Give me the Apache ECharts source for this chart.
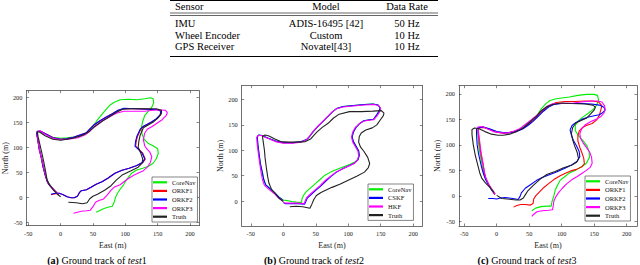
<!DOCTYPE html>
<html>
<head>
<meta charset="utf-8">
<script src="https://cdn.jsdelivr.net/npm/echarts@6/dist/echarts.min.js"></script>
<style>
html,body{margin:0;padding:0;background:#fff;}
#chart{width:640px;height:265px;}
</style>
</head>
<body>
<div id="chart"></div>
<script>
// ---------- table ----------
const tableHeader = ['Sensor', 'Model', 'Data Rate'];
const tableRows = [
  ['IMU', 'ADIS-16495 [42]', '50 Hz'],
  ['Wheel Encoder', 'Custom', '10 Hz'],
  ['GPS Receiver', 'Novatel[43]', '10 Hz']
];
const captions = [
  ['(a)', 'test', '1'],
  ['(b)', 'test', '2'],
  ['(c)', 'test', '3']
];

// ---------- tick labels ----------
const xTicks = [-50, 0, 50, 100, 150, 200];
const yTicksA = [-50, 0, 50, 100, 150, 200];
const yTicksB = [0, 50, 100, 150, 200];
const yTicksC = [-50, 0, 50, 100, 150, 200];

// ---------- (a) test1 ----------
const aCoreNav = [[55,-30],[60,-27],[66,-23],[73,-20],[80,-18],[83,-9],[85,0],[88,8],[92,16],[97,24],[101,33],[105,40],[110,48],[117,54],[127,58],[136,62],[143,68],[148,77],[151,88],[150,97],[143,103],[135,108],[129,116],[126,126],[125,140],[127,152],[130,163],[135,171],[141,180],[144,189],[143,197],[139,199],[130,197],[118,195],[105,196],[92,195],[83,190],[77,185],[70,175],[63,164],[56,153],[50,142],[44,132],[37,126],[24,121],[10,119],[0,118],[-12,120],[-24,127],[-32,132],[-36,131],[-36,121],[-34,105],[-31,86],[-28,65],[-24,45],[-20,32],[-15,22],[-9,13],[-4,7]];
const aORKF1 = [[-15,5],[-8,7],[-2,8],[4,5],[10,1],[16,-1],[21,-1],[26,2],[29,9],[32,13],[40,15],[47,20],[55,26],[64,31],[73,38],[84,48],[95,54],[106,58],[117,63],[127,69],[131,76],[127,88],[120,97],[116,102],[117,112],[119,122],[124,136],[129,142],[135,146],[142,151],[149,157],[155,165],[156,172],[151,175],[136,176],[115,177],[98,177],[89,174],[80,167],[70,160],[61,153],[52,145],[45,136],[40,129],[31,125],[20,120],[9,117],[0,116],[-12,119],[-22,126],[-31,132],[-36,132],[-37,127],[-35,112],[-33,95],[-30,80],[-27,60],[-24,45],[-21,32],[-18,25],[-13,18],[-8,11],[-3,5]];
const aORKF2 = [[-15,6],[-8,8],[-2,8],[4,5],[10,1],[16,-1],[21,-1],[26,2],[29,9],[32,13],[40,15],[47,20],[55,26],[64,31],[73,38],[84,48],[95,54],[106,58],[117,63],[127,70],[130,77],[126,88],[119,97],[115,102],[116,112],[118,122],[123,136],[128,142],[134,146],[141,151],[148,157],[154,165],[155,172],[150,175],[135,176],[115,177],[98,178],[89,174],[80,167],[70,160],[61,153],[52,145],[45,136],[40,129],[31,125],[20,120],[9,117],[0,116],[-12,119],[-22,126],[-31,132],[-36,132],[-37,127],[-35,112],[-33,95],[-30,80],[-27,60],[-24,45],[-21,32],[-18,25],[-13,18],[-8,11],[-3,5]];
const aORKF3 = [[20,-32],[26,-30],[32,-28],[40,-27],[46,-26],[50,-19],[54,-10],[60,-6],[66,-4],[72,4],[78,14],[84,21],[92,25],[103,36],[113,44],[121,49],[128,53],[134,60],[139,70],[141,81],[138,90],[133,97],[130,103],[128,115],[130,128],[134,136],[141,141],[149,148],[157,155],[163,163],[165,169],[162,174],[150,175],[130,172],[110,172],[98,172],[86,168],[76,161],[66,154],[55,143],[46,133],[38,125],[27,119],[12,116],[0,115],[-12,118],[-24,126],[-32,133],[-36,131],[-36,122],[-34,105],[-32,90],[-28,70],[-25,52],[-22,38],[-19,28],[-14,20],[-8,12],[-3,5]];
const aTruth = [[12,-10],[24,-11],[34,-13],[41,-11],[45,-3],[50,2],[57,6],[68,14],[78,23],[86,34],[96,45],[109,53],[120,60],[126,68],[127,76],[124,88],[120,100],[121,112],[123,124],[128,139],[136,145],[144,151],[151,159],[156,168],[156,174],[148,177],[130,177],[110,177],[96,176],[85,169],[74,160],[63,151],[52,141],[44,131],[34,124],[22,119],[10,116],[0,114],[-12,116],[-24,123],[-32,130],[-36,131],[-35,122],[-32,105],[-29,88],[-26,70],[-23,50],[-21,35],[-17,24],[-11,14],[-5,6],[0,1]];

// ---------- (b) test2 ----------
const bCoreNav = [[0,2],[6,1],[13,-1],[20,-2],[28,-3],[29,5],[31,11],[35,18],[42,26],[49,34],[57,43],[64,51],[73,57],[82,62],[92,67],[102,72],[110,77],[115,82],[117,90],[116,99],[112,108],[108,117],[106,126],[108,136],[112,145],[117,152],[124,158],[133,160],[139,161],[143,168],[147,176],[149,183],[146,189],[138,191],[125,190],[108,188],[92,186],[82,182],[76,176],[70,168],[62,158],[54,148],[47,138],[41,128],[36,121],[28,117],[15,115],[0,115],[-12,118],[-24,124],[-33,129],[-38,130],[-40,126],[-39,110],[-37,90],[-35,72],[-32,55],[-30,42],[-27,32],[-20,24],[-13,16],[-6,7],[0,2]];
const bCSKF = [[0,-3],[3,-5],[12,-5],[22,-5],[33,-6],[35,0],[37,6],[42,12],[50,21],[58,30],[66,40],[74,49],[82,57],[92,64],[102,70],[110,75],[115,81],[117,90],[116,99],[112,108],[108,117],[106,126],[108,136],[112,145],[117,152],[124,158],[133,160],[139,161],[143,168],[147,176],[149,183],[146,189],[138,191],[125,190],[108,188],[92,186],[82,182],[76,176],[70,168],[62,158],[54,148],[47,138],[41,128],[36,121],[28,117],[15,115],[0,115],[-12,118],[-24,124],[-33,129],[-38,130],[-40,126],[-39,110],[-37,90],[-35,72],[-32,55],[-30,42],[-27,32],[-20,24],[-13,16],[-6,7],[0,1]];
const bHKF = [[0,-2],[3,-4],[12,-4],[22,-4],[32,-5],[34,1],[36,7],[41,13],[49,22],[57,31],[65,41],[73,49],[81,57],[91,63],[101,69],[109,74],[114,80],[116,89],[115,98],[111,107],[107,116],[105,126],[107,136],[111,145],[116,151],[123,157],[132,159],[139,160],[144,167],[148,175],[150,182],[147,188],[139,190],[125,189],[108,187],[92,185],[81,181],[75,175],[69,167],[61,157],[53,147],[46,137],[40,127],[35,120],[27,116],[15,114],[0,114],[-12,117],[-25,124],[-34,129],[-39,129],[-41,125],[-40,110],[-38,90],[-36,72],[-34,55],[-32,42],[-29,31],[-22,23],[-14,15],[-7,6],[0,0]];
const bTruth = [[10,-11],[20,-10],[30,-11],[41,-14],[44,-6],[47,3],[51,11],[58,17],[66,22],[75,27],[87,33],[100,41],[113,49],[125,57],[131,66],[133,74],[130,86],[124,98],[119,106],[116,116],[117,127],[120,134],[127,140],[137,144],[144,150],[149,159],[154,168],[155,173],[151,178],[138,177],[120,176],[102,176],[86,171],[77,163],[69,153],[60,145],[52,136],[46,128],[42,122],[34,117],[22,116],[8,116],[-4,117],[-13,122],[-22,128],[-28,130],[-32,127],[-31,118],[-29,100],[-28,85],[-26,65],[-24,48],[-22,35],[-18,23],[-12,14],[-6,5],[0,-1]];

// ---------- (c) test3 ----------
const cCoreNav = [[54,-29],[60,-24],[68,-21],[78,-20],[84,-20],[85,-12],[88,0],[90,11],[94,22],[98,31],[105,38],[112,45],[122,51],[131,57],[138,64],[143,76],[142,88],[139,98],[133,108],[126,118],[121,128],[121,138],[125,146],[132,154],[141,162],[149,170],[154,178],[157,188],[155,197],[150,199],[138,199],[125,197],[112,194],[100,192],[90,190],[82,187],[75,180],[69,171],[62,158],[54,148],[46,139],[38,131],[28,126],[18,124],[8,124],[-2,126],[-12,131],[-22,135],[-28,133],[-29,124],[-28,104],[-26,85],[-23,65],[-21,50],[-18,37],[-13,23],[-8,12],[-3,4]];
const cORKF1 = [[26,-22],[31,-19],[37,-17],[44,-17],[52,-18],[56,-15],[57,-6],[60,0],[66,8],[73,17],[80,24],[88,32],[97,39],[105,44],[114,49],[123,52],[131,57],[135,63],[134,74],[131,85],[128,95],[125,108],[125,118],[127,127],[132,134],[138,138],[147,142],[154,149],[158,158],[160,167],[162,177],[157,184],[147,186],[136,186],[120,185],[105,185],[92,183],[82,178],[74,170],[66,161],[58,150],[49,141],[41,133],[31,127],[20,124],[10,123],[0,125],[-10,130],[-20,134],[-27,133],[-29,129],[-28,118],[-26,98],[-24,80],[-21,62],[-19,45],[-16,32],[-11,20],[-6,10],[-2,3]];
const cORKF2 = [[-13,-5],[-6,-5],[0,-6],[6,-4],[13,-3],[19,-4],[25,-5],[33,-7],[36,-1],[38,6],[44,15],[52,22],[61,30],[70,36],[80,41],[92,47],[105,54],[116,61],[124,68],[128,77],[127,87],[123,98],[118,109],[115,119],[113,129],[116,138],[122,144],[131,150],[140,154],[150,157],[158,159],[163,163],[167,168],[165,174],[158,178],[146,180],[131,181],[115,181],[100,181],[88,179],[80,174],[72,166],[64,156],[56,146],[48,138],[40,131],[30,126],[20,124],[10,124],[0,126],[-10,131],[-20,135],[-27,134],[-31,131],[-31,120],[-30,100],[-28,83],[-25,66],[-23,55],[-20,42],[-17,32],[-12,20],[-7,10],[-3,3]];
const cORKF3 = [[54,-40],[58,-35],[62,-31],[70,-29],[80,-28],[86,-27],[87,-20],[88,-10],[91,-2],[95,6],[101,15],[108,24],[116,32],[124,38],[131,44],[138,50],[144,56],[147,64],[146,76],[143,86],[138,95],[133,104],[129,113],[128,122],[131,132],[137,140],[145,146],[153,150],[160,155],[165,162],[167,170],[166,177],[162,184],[156,186],[146,186],[130,184],[118,182],[100,181],[88,181],[78,176],[70,168],[62,158],[53,149],[44,140],[36,132],[25,126],[15,123],[5,124],[-5,126],[-14,131],[-22,136],[-29,135],[-28,126],[-26,105],[-24,85],[-21,64],[-19,48],[-17,36],[-12,22],[-7,12],[-3,3]];
const cTruth = [[0,1],[8,-5],[16,-6],[23,-7],[30,-8],[36,-8],[41,-4],[44,2],[48,10],[56,20],[66,32],[77,42],[90,48],[103,55],[115,60],[123,66],[126,73],[124,85],[120,98],[117,110],[115,122],[117,134],[122,143],[130,148],[138,152],[144,160],[150,168],[152,174],[148,178],[136,180],[115,181],[100,182],[86,179],[76,174],[68,166],[61,156],[53,147],[46,139],[38,131],[30,126],[20,121],[10,119],[2,119],[-8,121],[-18,126],[-28,132],[-34,133],[-38,130],[-38,120],[-36,100],[-33,80],[-29,60],[-26,45],[-23,35],[-17,25],[-10,16],[-4,7]];

// ---------- styling ----------
const COLORS = {CoreNav:'#00ee00', ORKF1:'#ff0000', ORKF2:'#0000ff', ORKF3:'#ff00ff', CSKF:'#0000ff', HKF:'#ff00ff', Truth:'#222222'};
const SERIF = '"Liberation Serif", "Times New Roman", serif';
const AX = '#333';

const panels = [
  {grid:{left:25, top:90.7, width:174, height:135}, x:[-53,214], y:[-57,213], yTicks:yTicksA,
   yGap:16, xGap:12.5,
   legend:{left:152, top:177},
   series:[['CoreNav',aCoreNav],['ORKF1',aORKF1],['ORKF2',aORKF2],['ORKF3',aORKF3],['Truth',aTruth]]},
  {grid:{left:241.7, top:85.7, width:180.6, height:140.3}, x:[-64,214], y:[-49,227], yTicks:yTicksB,
   yGap:17.5, xGap:12.5,
   legend:{left:368, top:184},
   series:[['CoreNav',bCoreNav],['CSKF',bCSKF],['HKF',bHKF],['Truth',bTruth]]},
  {grid:{left:459, top:85.7, width:178, height:140.3}, x:[-58,216], y:[-59,216], yTicks:yTicksC,
   yGap:17.5, xGap:12.5,
   legend:{left:585, top:176},
   series:[['CoreNav',cCoreNav],['ORKF1',cORKF1],['ORKF2',cORKF2],['ORKF3',cORKF3],['Truth',cTruth]]}
];

const grids = [], xAxes = [], yAxes = [], series = [], legends = [];
panels.forEach((p, gi) => {
  grids.push(Object.assign({containLabel:false}, p.grid));
  const tick = (vals) => ({show:true, inside:true, length:2.5, customValues:vals, lineStyle:{color:AX, width:0.6}});
  const line = {show:true, onZero:false, lineStyle:{color:AX, width:0.7}};
  xAxes.push({type:'value', gridIndex:gi, position:'bottom', min:p.x[0], max:p.x[1],
    axisLine:line, axisTick:tick(xTicks), splitLine:{show:false},
    axisLabel:{show:true, customValues:xTicks, fontSize:6.3, fontFamily:SERIF, color:'#222', margin:4.5},
    name:'East (m)', nameLocation:'middle', nameGap:p.xGap,
    nameTextStyle:{fontSize:8, fontFamily:SERIF, color:'#222'}});
  xAxes.push({type:'value', gridIndex:gi, position:'top', min:p.x[0], max:p.x[1],
    axisLine:line, axisTick:tick(xTicks), splitLine:{show:false}, axisLabel:{show:false}});
  yAxes.push({type:'value', gridIndex:gi, position:'left', min:p.y[0], max:p.y[1],
    axisLine:line, axisTick:tick(p.yTicks), splitLine:{show:false},
    axisLabel:{show:true, customValues:p.yTicks, fontSize:6.3, fontFamily:SERIF, color:'#222', margin:4},
    name:'North (m)', nameLocation:'middle', nameGap:p.yGap,
    nameTextStyle:{fontSize:8, fontFamily:SERIF, color:'#222'}});
  yAxes.push({type:'value', gridIndex:gi, position:'right', min:p.y[0], max:p.y[1],
    axisLine:line, axisTick:tick(p.yTicks), splitLine:{show:false}, axisLabel:{show:false}});
  p.series.forEach(([name, data]) => {
    series.push({type:'line', name, data, xAxisIndex:gi*2, yAxisIndex:gi*2,
      symbol:'none', showSymbol:false, smooth:false, clip:true,
      lineStyle:{color:COLORS[name], width:1.1}, itemStyle:{color:COLORS[name]},
      emphasis:{disabled:true}});
  });
  legends.push({data:p.series.map(s => ({name:s[0], itemStyle:{color:COLORS[s[0]]}})),
    left:p.legend.left, top:p.legend.top, orient:'vertical', icon:'rect',
    itemWidth:14, itemHeight:2.2, itemGap:0, padding:[1,2,1,1],
    borderColor:'#333', borderWidth:0.6, backgroundColor:'#fff', selectedMode:false,
    textStyle:{fontSize:6.5, fontFamily:SERIF, color:'#111', lineHeight:8.6}});
});

// table graphics
const graphics = [];
const TL = 170, TR = 438;
[[0.5,1],[13,0.6],[15.5,0.6],[56.5,1]].forEach(([y, w]) => {
  graphics.push({type:'line', shape:{x1:TL, y1:y, x2:TR, y2:y}, style:{stroke:'#000', lineWidth:w}, silent:true});
});
const colX = [175, 326, 407];
const colAlign = ['left', 'center', 'center'];
const rowY = [6.5, 23.5, 35, 46.5];
[tableHeader].concat(tableRows).forEach((row, ri) => {
  row.forEach((txt, ci) => {
    graphics.push({type:'text', silent:true, style:{text:txt, x:colX[ci], y:rowY[ri],
      fontSize:10.5, fontFamily:SERIF, fill:'#000', align:colAlign[ci], verticalAlign:'middle'}});
  });
});
const capX = [97, 314, 527];
const CAP = 10;
captions.forEach((c, i) => {
  graphics.push({type:'text', silent:true, style:{
    text:'{b|' + c[0] + '}{n| Ground track of }{i|' + c[1] + '}{n|' + c[2] + '}',
    x:capX[i], y:260.5, align:'center', verticalAlign:'middle', fill:'#000',
    fontSize:CAP, fontFamily:SERIF,
    rich:{
      b:{fontSize:CAP, fontFamily:SERIF, fontWeight:'bold', fill:'#000'},
      n:{fontSize:CAP, fontFamily:SERIF, fill:'#000'},
      i:{fontSize:CAP, fontFamily:SERIF, fontStyle:'italic', fill:'#000'}
    }}});
});

const chart = echarts.init(document.getElementById('chart'), null, {renderer:'svg', width:640, height:265});
chart.setOption({
  animation:false,
  backgroundColor:'#fff',
  grid:grids, xAxis:xAxes, yAxis:yAxes, series, legend:legends,
  graphic:graphics
});
</script>
</body>
</html>
